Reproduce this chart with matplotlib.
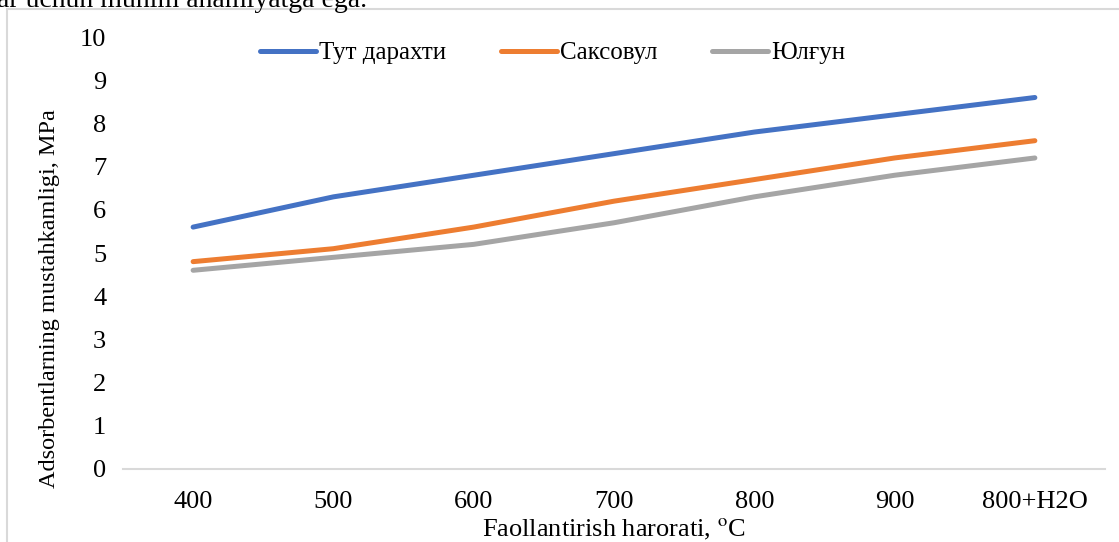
import matplotlib.pyplot as plt
from matplotlib.patches import Rectangle

categories = ['400', '500', '600', '700', '800', '900', '800+H2O']
tut = [5.6, 6.3, 6.8, 7.3, 7.8, 8.2, 8.6]
saksovul = [4.8, 5.1, 5.6, 6.2, 6.7, 7.2, 7.6]
yulgun = [4.6, 4.9, 5.2, 5.7, 6.3, 6.8, 7.2]
labels = ['Тут дарахти', 'Саксовул', 'Юлғун']

plt.rcParams['font.family'] = ['Liberation Serif', 'DejaVu Serif']
plt.rcParams['mathtext.fontset'] = 'stix'

fs = 19
fig = plt.figure(figsize=(11.19, 5.42), dpi=100)
ax = fig.add_axes([0.1099, 0.1347, 0.8776, 0.797])

# chart frame as in the document
fig.patches.append(Rectangle((7 / 1119, -0.1), 1.2, 1 - 9 / 542 + 0.1,
                             transform=fig.transFigure, fill=False,
                             edgecolor='#d9d9d9', linewidth=1.5))
# cut-off document text above the chart
fig.text(-0.003, 1 - 7 / 542, 'ar uchun muhim ahamiyatga ega.', fontsize=fs + 1,
         va='baseline', ha='left')

x = range(len(categories))
ax.plot(x, tut, color='#4472c4', lw=3.6, solid_capstyle='round', label=labels[0])
ax.plot(x, saksovul, color='#ed7d31', lw=3.6, solid_capstyle='round', label=labels[1])
ax.plot(x, yulgun, color='#a5a5a5', lw=3.6, solid_capstyle='round', label=labels[2])

ax.set_xlim(-0.5, len(categories) - 0.5)
ax.set_ylim(0, 10)
ax.set_yticks(range(0, 11))
ax.set_xticks(list(x))
ax.set_xticklabels(categories)
ax.tick_params(length=0, labelsize=fs)
ax.tick_params(axis='x', pad=16)
ax.tick_params(axis='y', pad=12)
for s in ['top', 'right', 'left']:
    ax.spines[s].set_visible(False)
ax.spines['bottom'].set_color('#d9d9d9')
ax.spines['bottom'].set_linewidth(1.5)

ax.set_xlabel('Faollantirish harorati, $^{\\mathrm{o}}$C', fontsize=fs, labelpad=3)
ax.set_ylabel('Adsorbentlarning mustahkamligi, MPa', fontsize=17.5)
ax.yaxis.set_label_coords(-0.064, 0.394)

ax.legend(loc='center left', bbox_to_anchor=(0.1395, 0.963), ncol=3, frameon=False,
          fontsize=18, handlelength=2.25, handletextpad=0.1, columnspacing=2.2,
          borderpad=0, borderaxespad=0)

fig.savefig('out.png', dpi=100)
